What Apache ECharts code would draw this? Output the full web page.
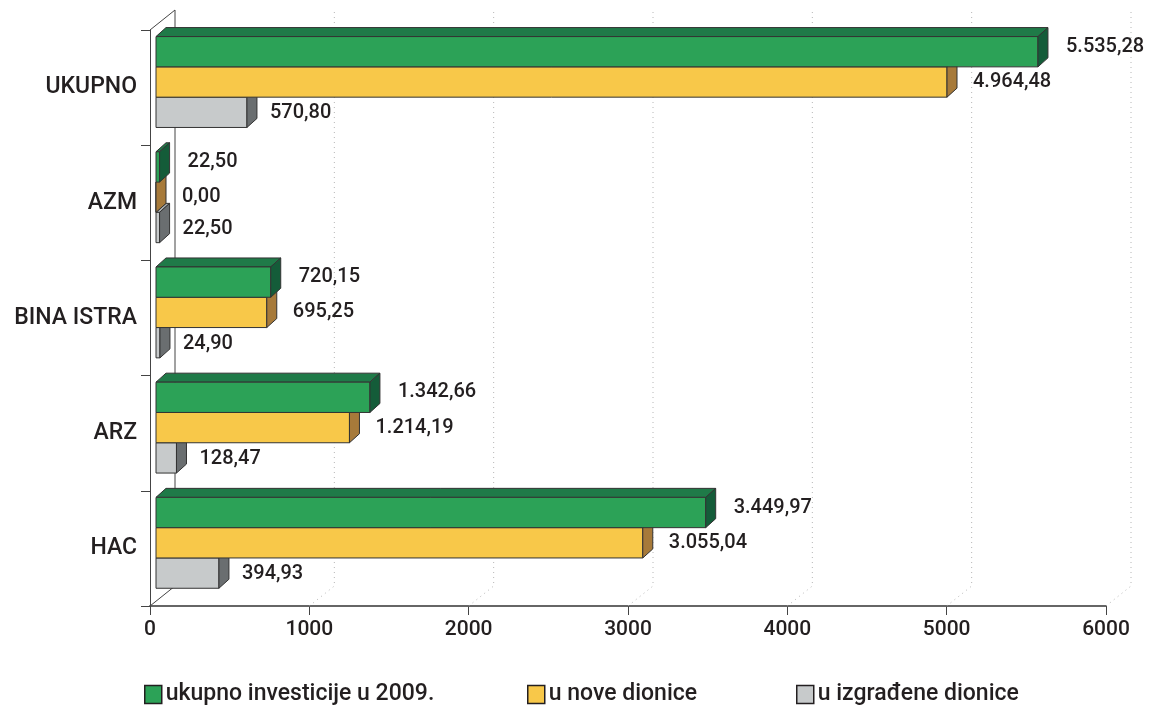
<!DOCTYPE html>
<html><head><meta charset="utf-8">
<script src="https://cdn.jsdelivr.net/npm/echarts@6/dist/echarts.min.js"></script>
<style>html,body{margin:0;padding:0;background:#fff}#c{width:1149px;height:708px}</style>
</head><body><div id="c"></div>
<script>
const categories = ['HAC', 'ARZ', 'BINA ISTRA', 'AZM', 'UKUPNO'];
const seriesNames = ['ukupno investicije u 2009.', 'u nove dionice', 'u izgrađene dionice'];
const totalValues = [3449.97, 1342.66, 720.15, 22.50, 5535.28];
const newValues = [3055.04, 1214.19, 695.25, 0.00, 4964.48];
const builtValues = [394.93, 128.47, 24.90, 22.50, 570.80];
const xTicks = [0, 1000, 2000, 3000, 4000, 5000, 6000];

const FONT = 'Roboto';
const TXT = '#231f20';
const OFF = 6, DX = 10, DY = 9;        // bar 3D offsets
const WDX = 25, WDY = 20;              // wall depth
const palettes = [
  {front: '#2ca257', top: '#1f7a48', side: '#145c39'},
  {front: '#f8c849', top: '#c99a3c', side: '#a77a3a'},
  {front: '#c7cacb', top: '#a9adae', side: '#6a6e70'}
];
const labelGap = [18, 16, 13];
const labelDy = [-5, 0, 1];

function fmt(v) {
  const s = v.toFixed(2).split('.');
  const int = s[0].replace(/\B(?=(\d{3})+(?!\d))/g, '.');
  return int + ',' + s[1];
}

function makeBar(si) {
  const pal = palettes[si];
  return function (params, api) {
    const v = api.value(0), ci = api.value(1);
    const p0 = api.coord([0, ci]), p1 = api.coord([v, ci]);
    const band = api.size([0, 1])[1];
    const h = band * 0.263;
    const top = p0[1] - band * 0.443 + si * h;
    const bot = top + h;
    const x0 = p0[0] + OFF, x1 = p1[0] + OFF;
    const stroke = {stroke: '#333', lineWidth: 1};
    return {
      type: 'group',
      children: [
        {type: 'polygon', shape: {points: [[x0, top], [x0 + DX, top - DY], [x1 + DX, top - DY], [x1, top]]},
          style: Object.assign({fill: pal.top}, stroke)},
        {type: 'rect', shape: {x: x0, y: top, width: x1 - x0, height: h},
          style: Object.assign({fill: pal.front}, stroke)},
        {type: 'polygon', shape: {points: [[x1, top], [x1 + DX, top - DY], [x1 + DX, bot - DY], [x1, bot]]},
          style: Object.assign({fill: pal.side}, stroke)},
        {type: 'text', x: x1 + DX + labelGap[si], y: (top + bot) / 2 + labelDy[si],
          style: {text: fmt(v), fill: TXT, font: '500 20px ' + FONT, verticalAlign: 'middle', align: 'left'}}
      ]
    };
  };
}

function wallItem(params, api) {
  const v = api.value(0);
  const cs = params.coordSys;
  const x = api.coord([v, 0])[0];
  const yb = cs.y + cs.height;
  const pts = [[x, yb], [x + WDX, yb - WDY], [x + WDX, cs.y - WDY]];
  if (v === 0) {
    return {type: 'group', children: [
      {type: 'polyline', shape: {points: pts}, style: {stroke: '#444', lineWidth: 1, fill: null}},
      {type: 'line', shape: {x1: x, y1: cs.y, x2: x + WDX, y2: cs.y - WDY}, style: {stroke: '#444', lineWidth: 1}}
    ]};
  }
  return {type: 'polyline', shape: {points: pts},
    style: {stroke: '#b5b5b5', lineWidth: 1, lineDash: [1, 4], fill: null}};
}

const valueSets = [totalValues, newValues, builtValues];
const series = [{
  type: 'custom', name: 'wall', z: 1, silent: true,
  renderItem: wallItem, encode: {x: 0, y: 1},
  data: xTicks.map(v => [v, 0])
}];
valueSets.forEach((vals, si) => {
  series.push({
    type: 'custom', name: seriesNames[si], z: 10 - si,
    renderItem: makeBar(si), encode: {x: 0, y: 1},
    itemStyle: {color: palettes[si].front},
    data: vals.map((v, i) => [v, i])
  });
});

const legendBase = {
  icon: 'rect', itemWidth: 17, itemHeight: 18, itemGap: 0, top: 683, padding: 0,
  textStyle: {fontSize: 23, color: TXT, fontFamily: FONT, fontWeight: 500, padding: [0, 0, 0, -1]},
  itemStyle: {borderColor: TXT, borderWidth: 1.5}
};

const chart = echarts.init(document.getElementById('c'));
chart.setOption({
  animation: false,
  backgroundColor: '#fff',
  grid: {left: 150, right: 43, top: 30, bottom: 102, containLabel: false},
  xAxis: {
    type: 'value', min: 0, max: 6000, interval: 1000,
    axisLine: {show: true, lineStyle: {color: '#666', width: 2}},
    axisTick: {show: true, length: 9, lineStyle: {color: '#444', width: 1}},
    axisLabel: {fontSize: 21, color: TXT, fontFamily: FONT, fontWeight: 500, margin: 13,
      formatter: v => String(v)},
    splitLine: {show: false}
  },
  yAxis: {
    type: 'category', data: categories,
    axisLine: {show: true, lineStyle: {color: '#444', width: 1}},
    axisTick: {show: true, length: 9, lineStyle: {color: '#444'}},
    axisLabel: {fontSize: 23, color: TXT, fontFamily: FONT, fontWeight: 500, margin: 13,
      padding: [0, 0, 4, 0]}
  },
  legend: [
    Object.assign({}, legendBase, {left: 144, data: [seriesNames[0]]}),
    Object.assign({}, legendBase, {left: 527, data: [seriesNames[1]]}),
    Object.assign({}, legendBase, {left: 796, data: [seriesNames[2]]})
  ],
  series: series
});
</script></body></html>
